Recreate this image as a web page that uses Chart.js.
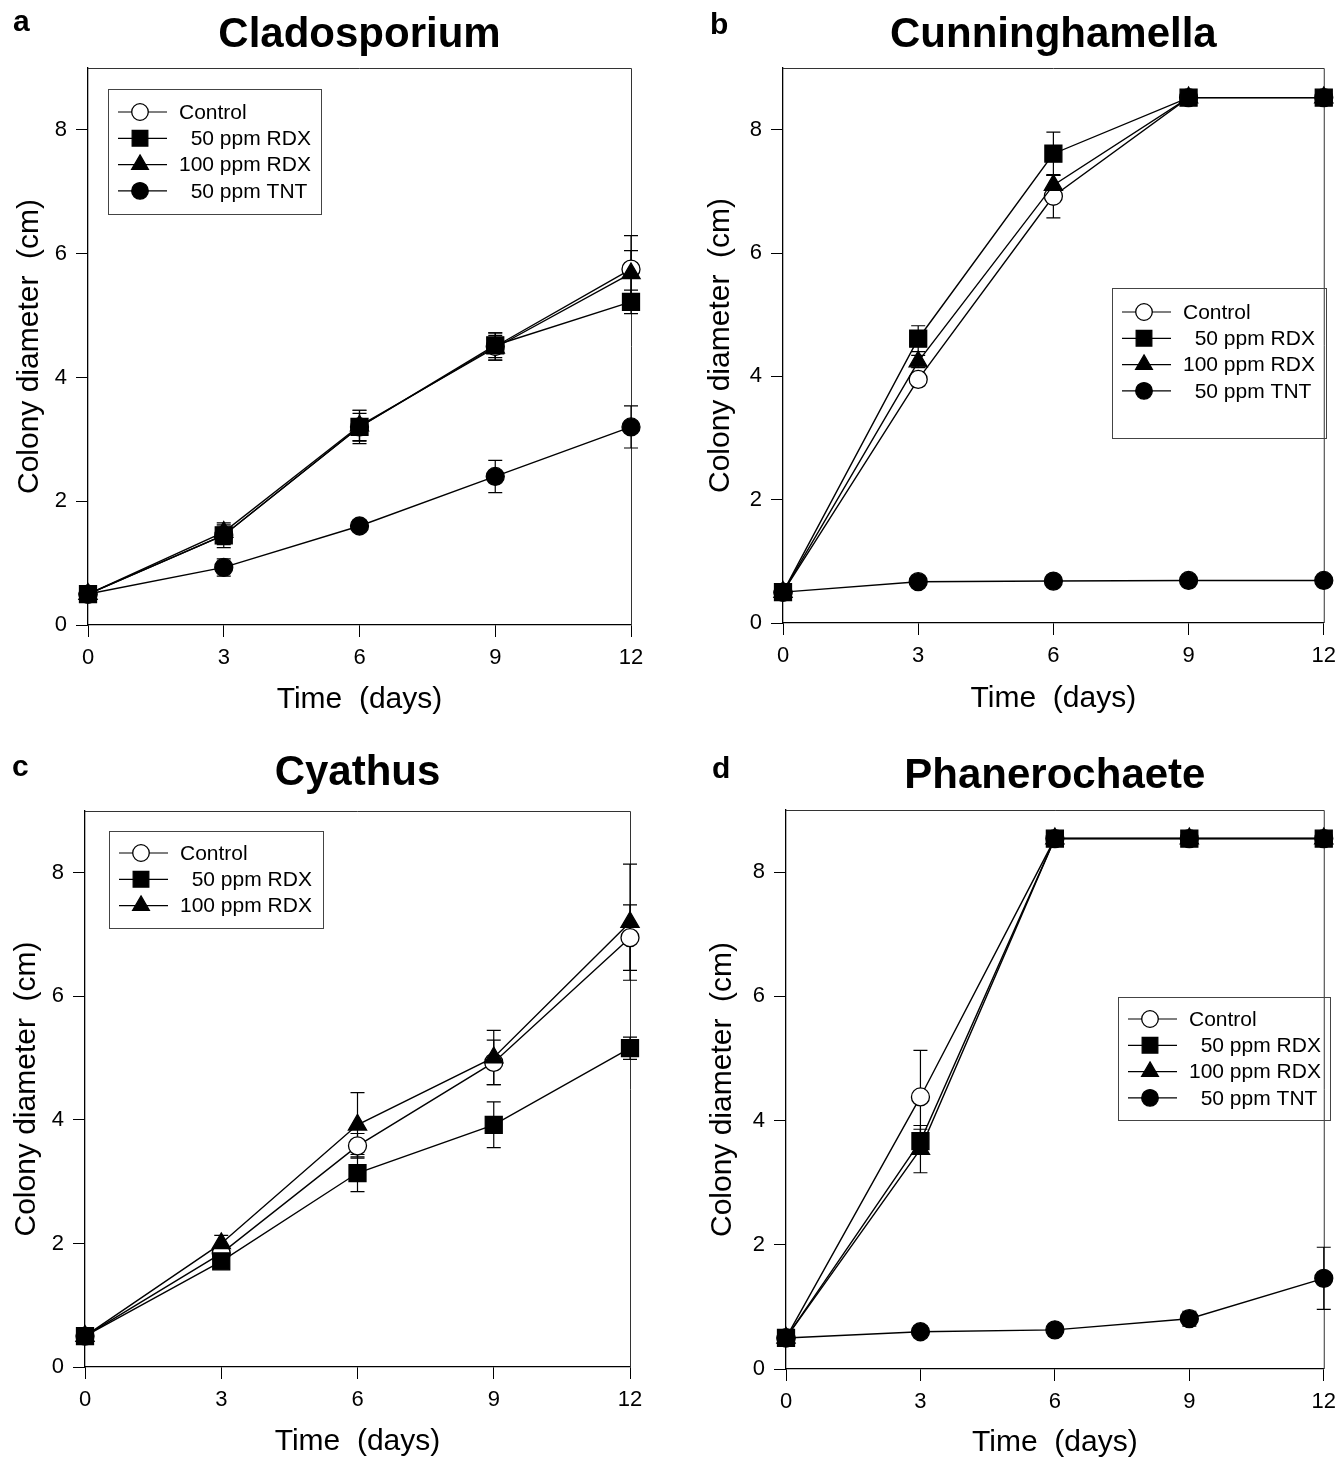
<!DOCTYPE html>
<html>
<head>
<meta charset="utf-8">
<script src="https://cdn.jsdelivr.net/npm/chart.js@4.4.1/dist/chart.umd.min.js"></script>
<style>
  html, body { margin: 0; padding: 0; background: #fff; }
  body { width: 1344px; height: 1458px; position: relative; overflow: hidden; }
  .panel { position: absolute; width: 672px; height: 729px; }
  canvas { display: block; }
</style>
</head>
<body>
<div class="panel" style="left:0;top:0"><canvas id="pa" width="672" height="729"></canvas></div>
<div class="panel" style="left:672px;top:0"><canvas id="pb" width="672" height="729"></canvas></div>
<div class="panel" style="left:0;top:729px"><canvas id="pc" width="672" height="729"></canvas></div>
<div class="panel" style="left:672px;top:729px"><canvas id="pd" width="672" height="729"></canvas></div>
<script>
// ---------------- DATA ----------------
const days = [0, 3, 6, 9, 12];
const xTicks = [0, 3, 6, 9, 12];
const yTicks = [0, 2, 4, 6, 8];
const seriesNames = ["Control", "  50 ppm RDX", "100 ppm RDX", "  50 ppm TNT"];
const panelTitles = ["Cladosporium", "Cunninghamella", "Cyathus", "Phanerochaete"];
const panelLetters = ["a", "b", "c", "d"];
const xAxisTitle = "Time  (days)";
const yAxisTitle = "Colony diameter  (cm)";

// (a) Cladosporium
const cladoControl = [0.5, 1.45, 3.2, 4.5, 5.75];
const cladoRDX50   = [0.5, 1.45, 3.2, 4.52, 5.22];
const cladoRDX100  = [0.5, 1.5, 3.22, 4.48, 5.68];
const cladoTNT     = [0.5, 0.93, 1.6, 2.4, 3.2];
const cladoControlErr = [0, 0.2, 0.27, 0.22, 0.54];
const cladoRDX50Err   = [0, 0.15, 0.22, 0.2, 0.19];
const cladoRDX100Err  = [0, 0.12, 0.25, 0.2, 0.37];
const cladoTNTErr     = [0, 0.14, 0.08, 0.26, 0.34];

// (b) Cunninghamella
const cunnControl = [0.5, 3.95, 6.92, 8.52, 8.52];
const cunnRDX50   = [0.5, 4.61, 7.61, 8.52, 8.52];
const cunnRDX100  = [0.5, 4.24, 7.1, 8.52, 8.52];
const cunnTNT     = [0.5, 0.67, 0.68, 0.69, 0.69];
const cunnControlErr = [0, 0.1, 0.35, 0, 0];
const cunnRDX50Err   = [0, 0.21, 0.35, 0, 0];
const cunnRDX100Err  = [0, 0.1, 0.16, 0, 0];
const cunnTNTErr     = [0, 0, 0, 0, 0];

// (c) Cyathus
const cyaControl = [0.5, 1.84, 3.58, 4.93, 6.95];
const cyaRDX50   = [0.5, 1.71, 3.14, 3.92, 5.16];
const cyaRDX100  = [0.5, 2.0, 3.92, 5.01, 7.2];
const cyaControlErr = [0, 0.1, 0.2, 0.36, 0.53];
const cyaRDX50Err   = [0, 0.06, 0.3, 0.37, 0.18];
const cyaRDX100Err  = [0, 0.13, 0.52, 0.44, 0.94];

// (d) Phanerochaete
const phaControl = [0.5, 4.38, 8.54, 8.54, 8.54];
const phaRDX50   = [0.5, 3.67, 8.54, 8.54, 8.54];
const phaRDX100  = [0.5, 3.54, 8.54, 8.54, 8.54];
const phaTNT     = [0.5, 0.6, 0.63, 0.81, 1.46];
const phaControlErr = [0, 0.75, 0, 0, 0];
const phaRDX50Err   = [0, 0.19, 0, 0, 0];
const phaRDX100Err  = [0, 0.38, 0, 0, 0];
const phaTNTErr     = [0, 0, 0, 0.12, 0.5];

// ---------------- STYLE ----------------
const FONT = '"Liberation Sans", Arial, Helvetica, sans-serif';
const markerStyles = [
  { style: 'circle', r: 9, fill: '#ffffff' },
  { style: 'rect', r: 12, fill: '#000000' },
  { style: 'triangle', r: 10.5, fill: '#000000' },
  { style: 'circle', r: 9, fill: '#000000' }
];

function drawMarker(ctx, style, r, x, y, fill) {
  ctx.beginPath();
  if (style === 'circle') {
    ctx.arc(x, y, r, 0, Math.PI * 2);
  } else if (style === 'rect') {
    const s = Math.SQRT1_2 * r;
    ctx.rect(x - s, y - s, 2 * s, 2 * s);
  } else {
    let a = 0;
    ctx.moveTo(x + Math.sin(a) * r, y - Math.cos(a) * r);
    a += Math.PI * 2 / 3;
    ctx.lineTo(x + Math.sin(a) * r, y - Math.cos(a) * r);
    a += Math.PI * 2 / 3;
    ctx.lineTo(x + Math.sin(a) * r, y - Math.cos(a) * r);
  }
  ctx.closePath();
  ctx.fillStyle = fill;
  ctx.fill();
  ctx.lineWidth = 1.3;
  ctx.strokeStyle = '#000';
  ctx.stroke();
}

const decoPlugin = {
  id: 'deco',
  beforeDatasetsDraw(chart, args, opts) {
    const ctx = chart.ctx;
    const ca = chart.chartArea;
    const xs = chart.scales.x, ys = chart.scales.y;
    ctx.save();
    // frame (top and right)
    ctx.strokeStyle = '#333';
    ctx.lineWidth = 1;
    ctx.beginPath();
    ctx.moveTo(ca.left, ca.top + 0.5);
    ctx.lineTo(ca.right + 0.5, ca.top + 0.5);
    ctx.lineTo(ca.right + 0.5, ca.bottom);
    ctx.stroke();
    // error bars
    ctx.strokeStyle = '#000';
    ctx.lineWidth = 1.2;
    chart.data.datasets.forEach((ds) => {
      const errs = ds.errors || [];
      ds.data.forEach((pt, j) => {
        const e = errs[j];
        if (!e) return;
        const px = xs.getPixelForValue(pt.x);
        const yHi = ys.getPixelForValue(pt.y + e);
        const yLo = ys.getPixelForValue(pt.y - e);
        ctx.beginPath();
        ctx.moveTo(px, yHi); ctx.lineTo(px, yLo);
        ctx.moveTo(px - 7, yHi); ctx.lineTo(px + 7, yHi);
        ctx.moveTo(px - 7, yLo); ctx.lineTo(px + 7, yLo);
        ctx.stroke();
      });
    });
    ctx.restore();
  },
  afterDraw(chart, args, opts) {
    const ctx = chart.ctx;
    ctx.save();
    // panel letter
    ctx.fillStyle = '#000';
    ctx.font = 'bold 30px ' + FONT;
    ctx.textBaseline = 'alphabetic';
    ctx.textAlign = 'left';
    ctx.fillText(opts.letter, opts.letterX, opts.letterY);
    // legend
    const b = opts.legend;
    ctx.strokeStyle = '#444';
    ctx.lineWidth = 1;
    ctx.strokeRect(b.x + 0.5, b.y + 0.5, b.w, b.h);
    ctx.font = '21px ' + FONT;
    ctx.textBaseline = 'middle';
    chart.data.datasets.forEach((ds, i) => {
      const y = b.y + b.first + i * 26.3;
      ctx.strokeStyle = '#000';
      ctx.lineWidth = 1.2;
      ctx.beginPath();
      ctx.moveTo(b.x + 10, y);
      ctx.lineTo(b.x + 59, y);
      ctx.stroke();
      drawMarker(ctx, ds.pointStyle, ds.pointRadius * 0.92, b.x + 32, y, ds.pointBackgroundColor);
      ctx.fillStyle = '#000';
      ctx.fillText(ds.label, b.x + 71, y + 1);
    });
    ctx.restore();
  }
};

function makePanel(id, p) {
  const datasets = p.values.map((vals, i) => {
    const st = markerStyles[i];
    return {
      label: seriesNames[i],
      data: days.map((d, j) => ({ x: d, y: vals[j] })),
      errors: p.errors[i],
      borderColor: '#000',
      borderWidth: 1.4,
      backgroundColor: st.fill,
      pointStyle: st.style,
      pointRadius: st.r,
      pointHoverRadius: st.r,
      pointBackgroundColor: st.fill,
      pointBorderColor: '#000',
      pointBorderWidth: 1.3,
      tension: 0,
      fill: false,
      clip: false,
      order: 3 - i
    };
  });
  const area = p.area;
  return new Chart(document.getElementById(id), {
    type: 'line',
    data: { datasets },
    plugins: [decoPlugin],
    options: {
      responsive: false,
      animation: false,
      devicePixelRatio: 1,
      layout: { padding: { left: 0, top: 0, bottom: 0, right: 672 - area.R } },
      plugins: {
        legend: { display: false },
        tooltip: { enabled: false },
        title: {
          display: true,
          text: p.title,
          fullSize: false,
          color: '#000',
          font: { family: FONT, size: 42, weight: 'bold', lineHeight: 1.2 },
          padding: { top: p.titleTop, bottom: area.T - p.titleTop - 50.4 }
        },
        deco: { letter: p.letter, letterX: p.letterX, letterY: p.letterY, legend: p.legend }
      },
      scales: {
        x: {
          type: 'linear',
          min: 0, max: 12,
          afterBuildTicks: (s) => { s.ticks = xTicks.map(v => ({ value: v })); },
          afterFit: (s) => { s.height = 729 - area.B; },
          grid: { display: true, drawOnChartArea: false, drawTicks: true, tickLength: 12, color: '#000', lineWidth: 1 },
          border: { display: true, color: '#000', width: 1.3 },
          ticks: { color: '#000', font: { family: FONT, size: 22 }, padding: 8, maxRotation: 0, autoSkip: false },
          title: { display: true, text: xAxisTitle, color: '#000', font: { family: FONT, size: 30, lineHeight: 1 }, padding: { top: 0, bottom: p.xTitlePad } }
        },
        y: {
          type: 'linear',
          min: 0, max: 9,
          afterBuildTicks: (s) => { s.ticks = yTicks.map(v => ({ value: v })); },
          afterFit: (s) => { s.width = area.L; },
          grid: { display: true, drawOnChartArea: false, drawTicks: true, tickLength: 12, color: '#000', lineWidth: 1 },
          border: { display: true, color: '#000', width: 1.3 },
          ticks: { color: '#000', font: { family: FONT, size: 22 }, padding: 9 },
          title: { display: true, text: yAxisTitle, color: '#000', font: { family: FONT, size: 30, lineHeight: 1 }, padding: { top: p.yTitlePad, bottom: 0 } }
        }
      }
    }
  });
}

makePanel('pa', {
  title: panelTitles[0], letter: panelLetters[0], letterX: 13, letterY: 31,
  values: [cladoControl, cladoRDX50, cladoRDX100, cladoTNT],
  errors: [cladoControlErr, cladoRDX50Err, cladoRDX100Err, cladoTNTErr],
  area: { L: 88, T: 68, R: 631, B: 625 }, titleTop: 10, xTitlePad: 14, yTitlePad: 15,
  legend: { x: 108, y: 89, w: 213, h: 125, first: 23 }
});
makePanel('pb', {
  title: panelTitles[1], letter: panelLetters[1], letterX: 38, letterY: 34,
  values: [cunnControl, cunnRDX50, cunnRDX100, cunnTNT],
  errors: [cunnControlErr, cunnRDX50Err, cunnRDX100Err, cunnTNTErr],
  area: { L: 111, T: 68, R: 656, B: 623 }, titleTop: 10, xTitlePad: 15, yTitlePad: 34,
  legend: { x: 440, y: 288, w: 214, h: 150, first: 24 }
});
makePanel('pc', {
  title: panelTitles[2], letter: panelLetters[2], letterX: 12, letterY: 47,
  values: [cyaControl, cyaRDX50, cyaRDX100],
  errors: [cyaControlErr, cyaRDX50Err, cyaRDX100Err],
  area: { L: 85, T: 82, R: 630, B: 638 }, titleTop: 19, xTitlePad: 1, yTitlePad: 12,
  legend: { x: 109, y: 102, w: 214, h: 97, first: 22 }
});
makePanel('pd', {
  title: panelTitles[3], letter: panelLetters[3], letterX: 40, letterY: 49,
  values: [phaControl, phaRDX50, phaRDX100, phaTNT],
  errors: [phaControlErr, phaRDX50Err, phaRDX100Err, phaTNTErr],
  area: { L: 114, T: 81, R: 658, B: 640 }, titleTop: 22, xTitlePad: 0, yTitlePad: 36,
  legend: { x: 446, y: 268, w: 212, h: 123, first: 22 }
});
</script>
</body>
</html>
